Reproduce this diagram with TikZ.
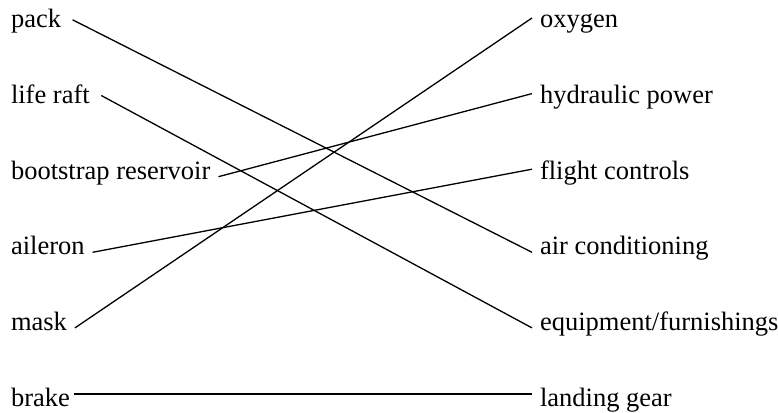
\documentclass[tikz,border=0pt]{standalone}
\usepackage{fontspec}
\setmainfont{Liberation Serif}
\usepackage{tikz}
\usetikzlibrary{positioning}
\tikzset{
  lbl/.style={anchor=base west,inner sep=0pt,outer xsep=8pt,outer ysep=-2.5pt,
    text height=12.5pt,text depth=0pt,font=\fontsize{26.5}{30}\selectfont},
  ln/.style={line width=1.3pt,black}
}
\begin{document}
\begin{tikzpicture}[x=1pt,y=-1pt]
\useasboundingbox (0,0) rectangle (778,412);
\def\dy{75.6}
% left column
\node[lbl] (pack)  at (3,28) {pack};
\node[lbl] (raft)  at (3,28+\dy) {life raft};
\node[lbl] (boot)  at (3,28+2*\dy) {bootstrap reservoir};
\node[lbl] (ail)   at (3,28+3*\dy) {aileron};
\node[lbl] (mask)  at (3,28+4*\dy) {mask};
\node[lbl] (brake) at (3,28+5*\dy) {brake};
% right column
\node[lbl] (oxy)   at (532,28) {oxygen};
\node[lbl] (hyd)   at (532,28+\dy) {hydraulic power};
\node[lbl] (fc)    at (532,28+2*\dy) {flight controls};
\node[lbl] (ac)    at (532,28+3*\dy) {air conditioning};
\node[lbl] (equip) at (532,28+4*\dy) {equipment/furnishings};
\node[lbl] (gear)  at (532,28+5*\dy) {landing gear};
% matches
\draw[ln,shorten <=4pt] (pack.north east) -- (ac.south west);
\draw[ln,shorten <=4pt] (raft.north east) -- (equip.south west);
\draw[ln] (boot.south east) -- (hyd.north west);
\draw[ln] (ail.south east)  -- (fc.north west);
\draw[ln] (mask.south east) -- (oxy.north west);
\draw[ln,shorten <=-4pt] ([yshift=2pt]brake.north east) -- ([yshift=2pt]gear.north west);
\end{tikzpicture}
\end{document}
